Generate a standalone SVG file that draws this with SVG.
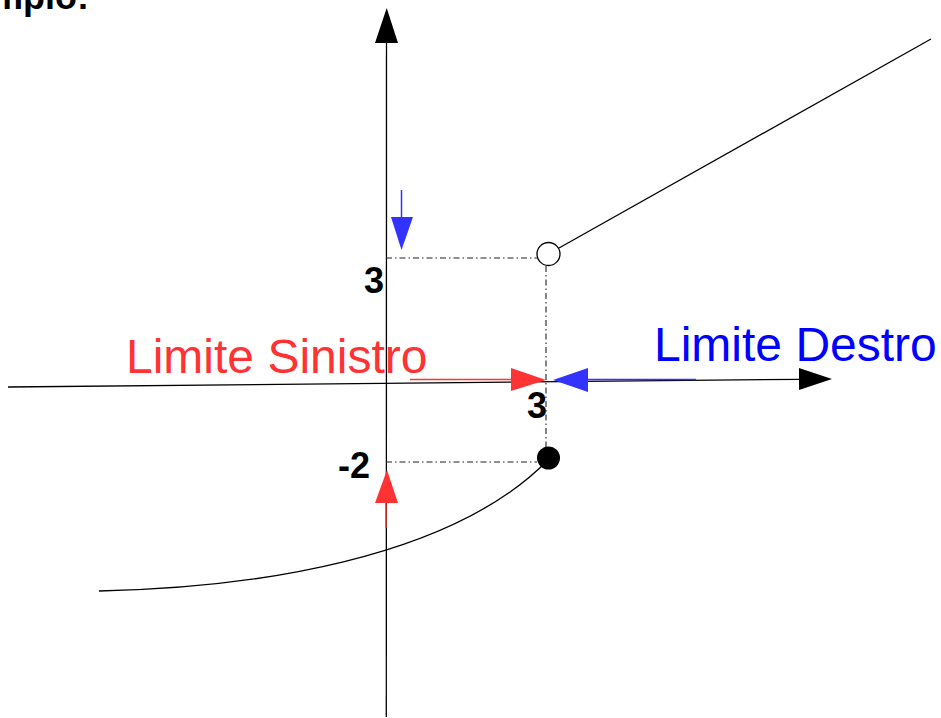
<svg xmlns="http://www.w3.org/2000/svg" width="941" height="718" viewBox="0 0 941 718">
<style>
.ax{stroke:#000;stroke-width:1.3;fill:none}
.dash{stroke:#222;stroke-width:1.1;fill:none;stroke-dasharray:6,3,1.5,3}
.lbl{font-family:"Liberation Sans",Arial,sans-serif;font-weight:bold;font-size:36px;fill:#000}
.big{font-family:"Liberation Sans",Arial,sans-serif;font-size:48px}
</style>
<rect width="941" height="718" fill="#fff"/>
<text class="lbl" x="89" y="9" text-anchor="end" font-size="30">Esempio:</text>
<g id="axes">
  <line class="ax" x1="8" y1="387" x2="800" y2="379.3"/>
  <polygon points="832,379 799,368 799,390" fill="#000"/>
  <line class="ax" x1="386.3" y1="717" x2="386.5" y2="40"/>
  <polygon points="386.7,8 375,43 398,43" fill="#000"/>
</g>
<g id="guides">
  <line class="dash" x1="386" y1="258" x2="537" y2="258"/>
  <line class="dash" x1="386" y1="462" x2="537" y2="462"/>
  <line class="dash" x1="546" y1="266" x2="546" y2="447"/>
</g>
<g id="curves">
  <path class="ax" d="M99,591 C250,588 450,560 548,460"/>
  <line class="ax" x1="559" y1="248" x2="931" y2="39"/>
</g>
<g id="open-point"><circle cx="548.5" cy="254" r="11.5" fill="#fff" stroke="#000" stroke-width="1.3"/></g>
<g id="closed-point"><circle cx="548.5" cy="458" r="11.5" fill="#000"/></g>
<g id="arrows">
  <line x1="410" y1="379.5" x2="512" y2="379.5" stroke="#ff3333" stroke-width="1.5"/>
  <polygon points="546,380 511,368 511,391" fill="#ff3333"/>
  <line x1="587" y1="379.5" x2="696" y2="379.5" stroke="#3333ff" stroke-width="1.5"/>
  <polygon points="553,380 588,368 588,392" fill="#3333ff"/>
  <line x1="401.5" y1="190" x2="401.5" y2="218" stroke="#3333ff" stroke-width="1.5"/>
  <polygon points="401.5,250 391,217 413,217" fill="#3333ff"/>
  <line x1="386" y1="502" x2="386" y2="528" stroke="#ff3333" stroke-width="1.5"/>
  <polygon points="387,470 375,503 398,503" fill="#ff3333"/>
</g>
<g id="labels">
  <text class="lbl" x="527" y="418">3</text>
  <text class="lbl" x="364" y="293">3</text>
  <text class="lbl" x="338" y="478">-2</text>
  <text class="big" x="126" y="373" fill="#ff3333">Limite Sinistro</text>
  <text class="big" x="654" y="361" fill="#0000ff">Limite Destro</text>
</g>
</svg>
